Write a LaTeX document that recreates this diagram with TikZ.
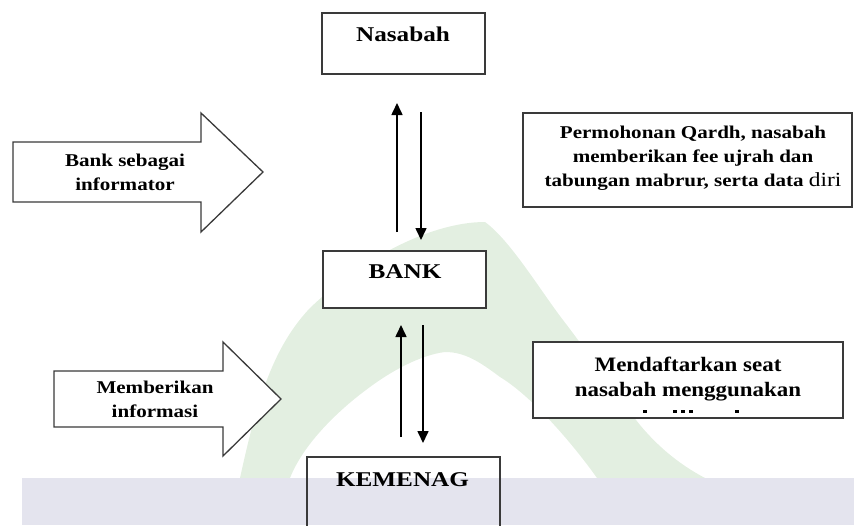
\documentclass[tikz,border=0pt]{standalone}
\usepackage{fontspec}
\setmainfont{Liberation Serif}
\usepackage{graphicx}
\usetikzlibrary{arrows.meta,calc}
\definecolor{wmgreen}{HTML}{E3EFE1}
\definecolor{wmlav}{HTML}{E4E4EE}
\definecolor{edgec}{HTML}{3A3A3A}
\newcommand{\sxa}[1]{\scalebox{1.17}[1]{#1}}
\newcommand{\sxb}[1]{\scalebox{1.2}[1]{#1}}
\newcommand{\sxc}[1]{\scalebox{1.12}[1]{#1}}
\begin{document}
\begin{tikzpicture}[x=1pt,y=-1pt,
  box/.style={draw=edgec, line width=1.6pt, rectangle, inner sep=0pt},
  wbox/.style={box, fill=white},
  smalltxt/.style={font=\bfseries\fontsize{18}{24}\selectfont, align=center, inner sep=0pt},
  midtxt/.style={font=\bfseries\fontsize{20.5}{25}\selectfont, align=center, inner sep=0pt},
  bigtxt/.style={font=\bfseries\fontsize{21}{25}\selectfont, inner sep=0pt},
  flow/.style={line width=1.6pt, -{Triangle[length=12pt,width=11pt]}},
  blockarrow/.style={draw=edgec, line width=1.3pt, fill=white, line join=miter}
]
\useasboundingbox (0,0) rectangle (854,525);
% watermark
\fill[wmgreen] (240,478) .. controls (255,410) and (270,350) .. (310,308)
  .. controls (360,260) and (430,222) .. (485,222)
  .. controls (510,240) and (540,290) .. (563,320)
  .. controls (590,355) and (620,400) .. (640,425)
  .. controls (665,455) and (690,470) .. (705,478)
  -- (597,478) .. controls (570,440) and (530,395) .. (500,377)
  .. controls (480,362) and (465,352) .. (445,352)
  .. controls (420,355) and (390,372) .. (370,387)
  .. controls (345,405) and (305,440) .. (290,478) -- cycle;
\fill[wmlav] (22,478) rectangle (854,525);

% boxes
\node[wbox, minimum width=163pt, minimum height=61pt] (nasabah) at (403.5,43.5) {};
\node[bigtxt] (nasabahT) at (403,34) {\sxb{Nasabah}};
\node[wbox, minimum width=163pt, minimum height=57pt] (bank) at (404.5,279.5) {};
\node[bigtxt] (bankT) at (405,272) {\sxb{BANK}};
\node[box, minimum width=193pt, minimum height=86pt] (kemenag) at (403.5,500) {};
\node[bigtxt] (kemenagT) at (402.5,480) {\sxb{KEMENAG}};

\node[wbox, minimum width=329pt, minimum height=94pt] (info1) at (687.5,160) {};
\node[smalltxt] (info1T) at (693,158) {\sxa{Permohonan Qardh, nasabah}\\\sxa{memberikan fee ujrah dan}\\\sxa{tabungan mabrur, serta data {\mdseries\fontsize{20}{24}\selectfont diri}}};
\node[wbox, minimum width=310pt, minimum height=76pt] (info2) at (688,380) {};
\node[midtxt] (info2T) at (688,379.5) {\sxc{Mendaftarkan seat}\\\sxc{nasabah menggunakan}};
\foreach \dx in {645,675,683,691,737} \fill (\dx-1.8,410) rectangle (\dx+1.8,412.5);

% block arrows
\draw[blockarrow] (13,142) -- (201,142) -- (201,113) -- (263,172) -- (201,232) -- (201,202) -- (13,202) -- cycle;
\node[smalltxt] (bl1) at (125,172) {\sxa{Bank sebagai}\\\sxa{informator}};
\draw[blockarrow] (54,371) -- (223,371) -- (223,342) -- (281,399) -- (223,456) -- (223,427) -- (54,427) -- cycle;
\node[smalltxt] (bl2) at (155,399) {\sxa{Memberikan}\\\sxa{informasi}};

% flow connectors
\coordinate (u1s) at (397,232); \coordinate (u1e) at (397,103);
\coordinate (d1s) at (421,112); \coordinate (d1e) at (421,240);
\coordinate (u2s) at (401,437); \coordinate (u2e) at (401,325);
\coordinate (d2s) at (423,325); \coordinate (d2e) at (423,443);
\draw[flow] (u1s) -- (u1e);
\draw[flow] (d1s) -- (d1e);
\draw[flow] (u2s) -- (u2e);
\draw[flow] (d2s) -- (d2e);
\end{tikzpicture}
\end{document}
